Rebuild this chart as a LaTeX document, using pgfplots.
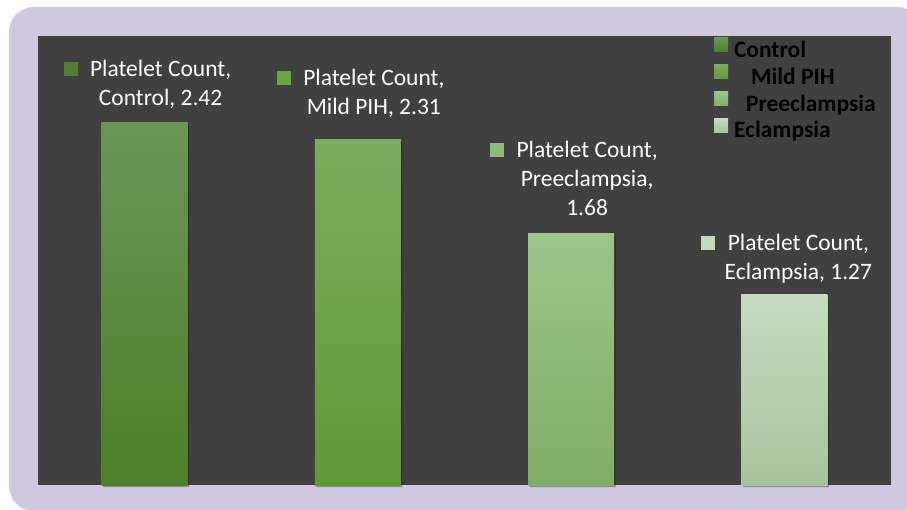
\documentclass[border=0pt]{standalone}
\usepackage{pgfplots}
\pgfplotsset{compat=1.18}
\usepackage{fontspec}
\setmainfont{Carlito}
\definecolor{lav}{RGB}{208,200,222}
\definecolor{darkbg}{RGB}{64,64,64}
\definecolor{bat}{RGB}{106,150,86}
\definecolor{bab}{RGB}{76,128,40}
\definecolor{bbt}{RGB}{122,173,94}
\definecolor{bbb}{RGB}{94,154,52}
\definecolor{bct}{RGB}{157,196,138}
\definecolor{bcb}{RGB}{128,174,101}
\definecolor{bdt}{RGB}{198,219,190}
\definecolor{bdb}{RGB}{168,196,156}
\definecolor{ka}{RGB}{80,128,48}
\definecolor{kb}{RGB}{104,166,62}
\definecolor{kc}{RGB}{140,188,118}
\definecolor{kd}{RGB}{196,218,186}
\newcommand{\labfont}{\fontsize{23.5}{29}\selectfont}
\newcommand{\sq}[1]{\llap{\textcolor{#1}{\rule[0.5pt]{14pt}{14pt}}\hspace{12.5pt}}}
\begin{document}
\begin{tikzpicture}[x=1pt,y=1pt]
\useasboundingbox (-38,-24) rectangle (869,485);
\fill[white] (-38,-24) rectangle (869,485);
\fill[lav, rounded corners=25pt] (-29,-26) rectangle (884,478);
\fill[lav] (800,-30) rectangle (884,0);
\fill[darkbg] (0,0) rectangle (853,449);
\begin{axis}[
  at={(0pt,0pt)}, anchor=south west,
  width=853pt, height=449pt, scale only axis,
  xmin=-0.5, xmax=3.5, ymin=0, ymax=3,
  hide axis, clip=false,
  legend cell align=left,
  legend style={at={(0.7925,0.996)}, anchor=north west, draw=none, fill=none,
    inner sep=0pt, outer sep=0pt, row sep=1.4pt,
    font=\bfseries\fontsize{23.5}{27}\selectfont, text=black,
    nodes={inner sep=0pt, text height=17pt, text depth=6pt},
    /tikz/every odd column/.append style={column sep=6pt}},
]
\addplot[ybar, bar width=86pt, bar shift=1.5pt, yshift=-2pt, draw=none, fill=black, fill opacity=0.3, forget plot]
  coordinates {(0,2.42) (1,2.31) (2,1.68) (3,1.27)};
\addplot[ybar, bar width=86pt, bar shift=0pt, draw=none, top color=bat, bottom color=bab,
  legend image code/.code={\fill[top color=bat,bottom color=bab] (0pt,0pt) rectangle (14pt,14pt);},
  nodes near coords={\sq{ka}Platelet Count,\\Control, 2.42},
  every node near coord/.append style={align=center, anchor=south, text depth=0pt, inner sep=0pt, xshift=16pt, yshift=17pt, text=white, font=\labfont}]
  coordinates {(0,2.42)};
\addlegendentry{Control}
\addplot[ybar, bar width=86pt, bar shift=0pt, draw=none, top color=bbt, bottom color=bbb,
  legend image code/.code={\fill[top color=bbt,bottom color=bbb] (0pt,0pt) rectangle (14pt,14pt);},
  nodes near coords={\sq{kb}Platelet Count,\\Mild PIH, 2.31},
  every node near coord/.append style={align=center, anchor=south, text depth=0pt, inner sep=0pt, xshift=16pt, yshift=25pt, text=white, font=\labfont}]
  coordinates {(1,2.31)};
\addlegendentry{\hspace{17pt}Mild PIH}
\addplot[ybar, bar width=86pt, bar shift=0pt, draw=none, top color=bct, bottom color=bcb,
  legend image code/.code={\fill[top color=bct,bottom color=bcb] (0pt,0pt) rectangle (14pt,14pt);},
  nodes near coords={\sq{kc}Platelet Count,\\Preeclampsia,\\1.68},
  every node near coord/.append style={align=center, anchor=south, text depth=0pt, inner sep=0pt, xshift=16pt, yshift=18pt, text=white, font=\labfont}]
  coordinates {(2,1.68)};
\addlegendentry{\hspace{12pt}Preeclampsia}
\addplot[ybar, bar width=86pt, bar shift=0pt, draw=none, top color=bdt, bottom color=bdb,
  legend image code/.code={\fill[top color=bdt,bottom color=bdb] (0pt,0pt) rectangle (14pt,14pt);},
  nodes near coords={\sq{kd}Platelet Count,\\Eclampsia, 1.27},
  every node near coord/.append style={align=center, anchor=south, text depth=0pt, inner sep=0pt, xshift=14pt, yshift=15pt, text=white, font=\labfont}]
  coordinates {(3,1.27)};
\addlegendentry{Eclampsia}
\end{axis}
\end{tikzpicture}
\end{document}
